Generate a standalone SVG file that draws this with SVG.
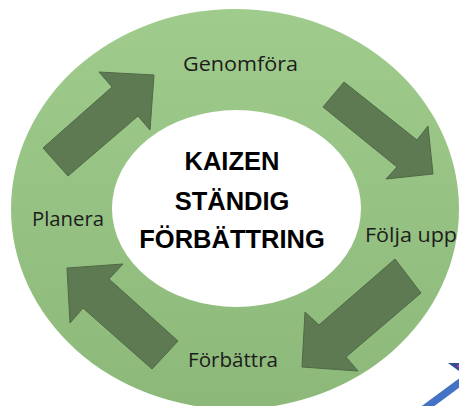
<svg xmlns="http://www.w3.org/2000/svg" width="459" height="406" viewBox="0 0 459 406">
<defs>
<linearGradient id="ring" x1="0" y1="0" x2="0" y2="1">
<stop offset="0" stop-color="#9fcc8c"/>
<stop offset="1" stop-color="#8cb879"/>
</linearGradient>
<style>
.arrow{fill:#5e7a53;stroke:#4f6946;stroke-width:1;stroke-linejoin:miter}
.lbl{font-family:"Open Sans","Liberation Sans",Arial,sans-serif;font-size:20px;fill:#1c1c1c}
.title{font-family:"Liberation Sans",Arial,sans-serif;font-size:25.5px;font-weight:bold;fill:#000;text-anchor:middle}
</style>
</defs>
<rect width="459" height="406" fill="#ffffff"/>
<g id="ring-node">
<ellipse cx="235" cy="209" rx="224" ry="200" fill="url(#ring)"/>
</g>
<g id="center">
<ellipse cx="236.5" cy="208.5" rx="124.5" ry="98.5" fill="#ffffff"/>
<text class="title" x="232" y="170">KAIZEN</text>
<text class="title" x="232" y="209.5">STÄNDIG</text>
<text class="title" x="232" y="247.5">FÖRBÄTTRING</text>
</g>
<g id="connectors">
<polygon class="arrow" points="43,148 112,87 99,72 154,75 150,130 138,116 68,176"/>
<polygon class="arrow" points="344,82 417,140 428,126 433,174 386,179 397,167 323,107"/>
<polygon class="arrow" points="395,259 421,293 346,357 358,371 302,367 305,312 319,325"/>
<polygon class="arrow" points="67,268 123,264 109,279 178,341 152,369 83,308 70,323"/>
</g>
<g id="genomfora"><text class="lbl" x="183" y="71" textLength="115" lengthAdjust="spacingAndGlyphs">Genomföra</text></g>
<g id="planera"><text class="lbl" x="32" y="226" textLength="72" lengthAdjust="spacingAndGlyphs">Planera</text></g>
<g id="folja-upp"><text class="lbl" x="365" y="242" textLength="92" lengthAdjust="spacingAndGlyphs">Följa upp</text></g>
<g id="forbattra"><text class="lbl" x="188" y="367" textLength="90" lengthAdjust="spacingAndGlyphs">Förbättra</text></g>
<g id="blue-line">
<line x1="424" y1="409" x2="462" y2="381" stroke="#4472c4" stroke-width="7.5"/>
<polygon points="448,363 459,363 459,371" fill="#2f4f94"/>
<rect x="457" y="365" width="2" height="2" fill="#d020c0"/>
</g>
</svg>
